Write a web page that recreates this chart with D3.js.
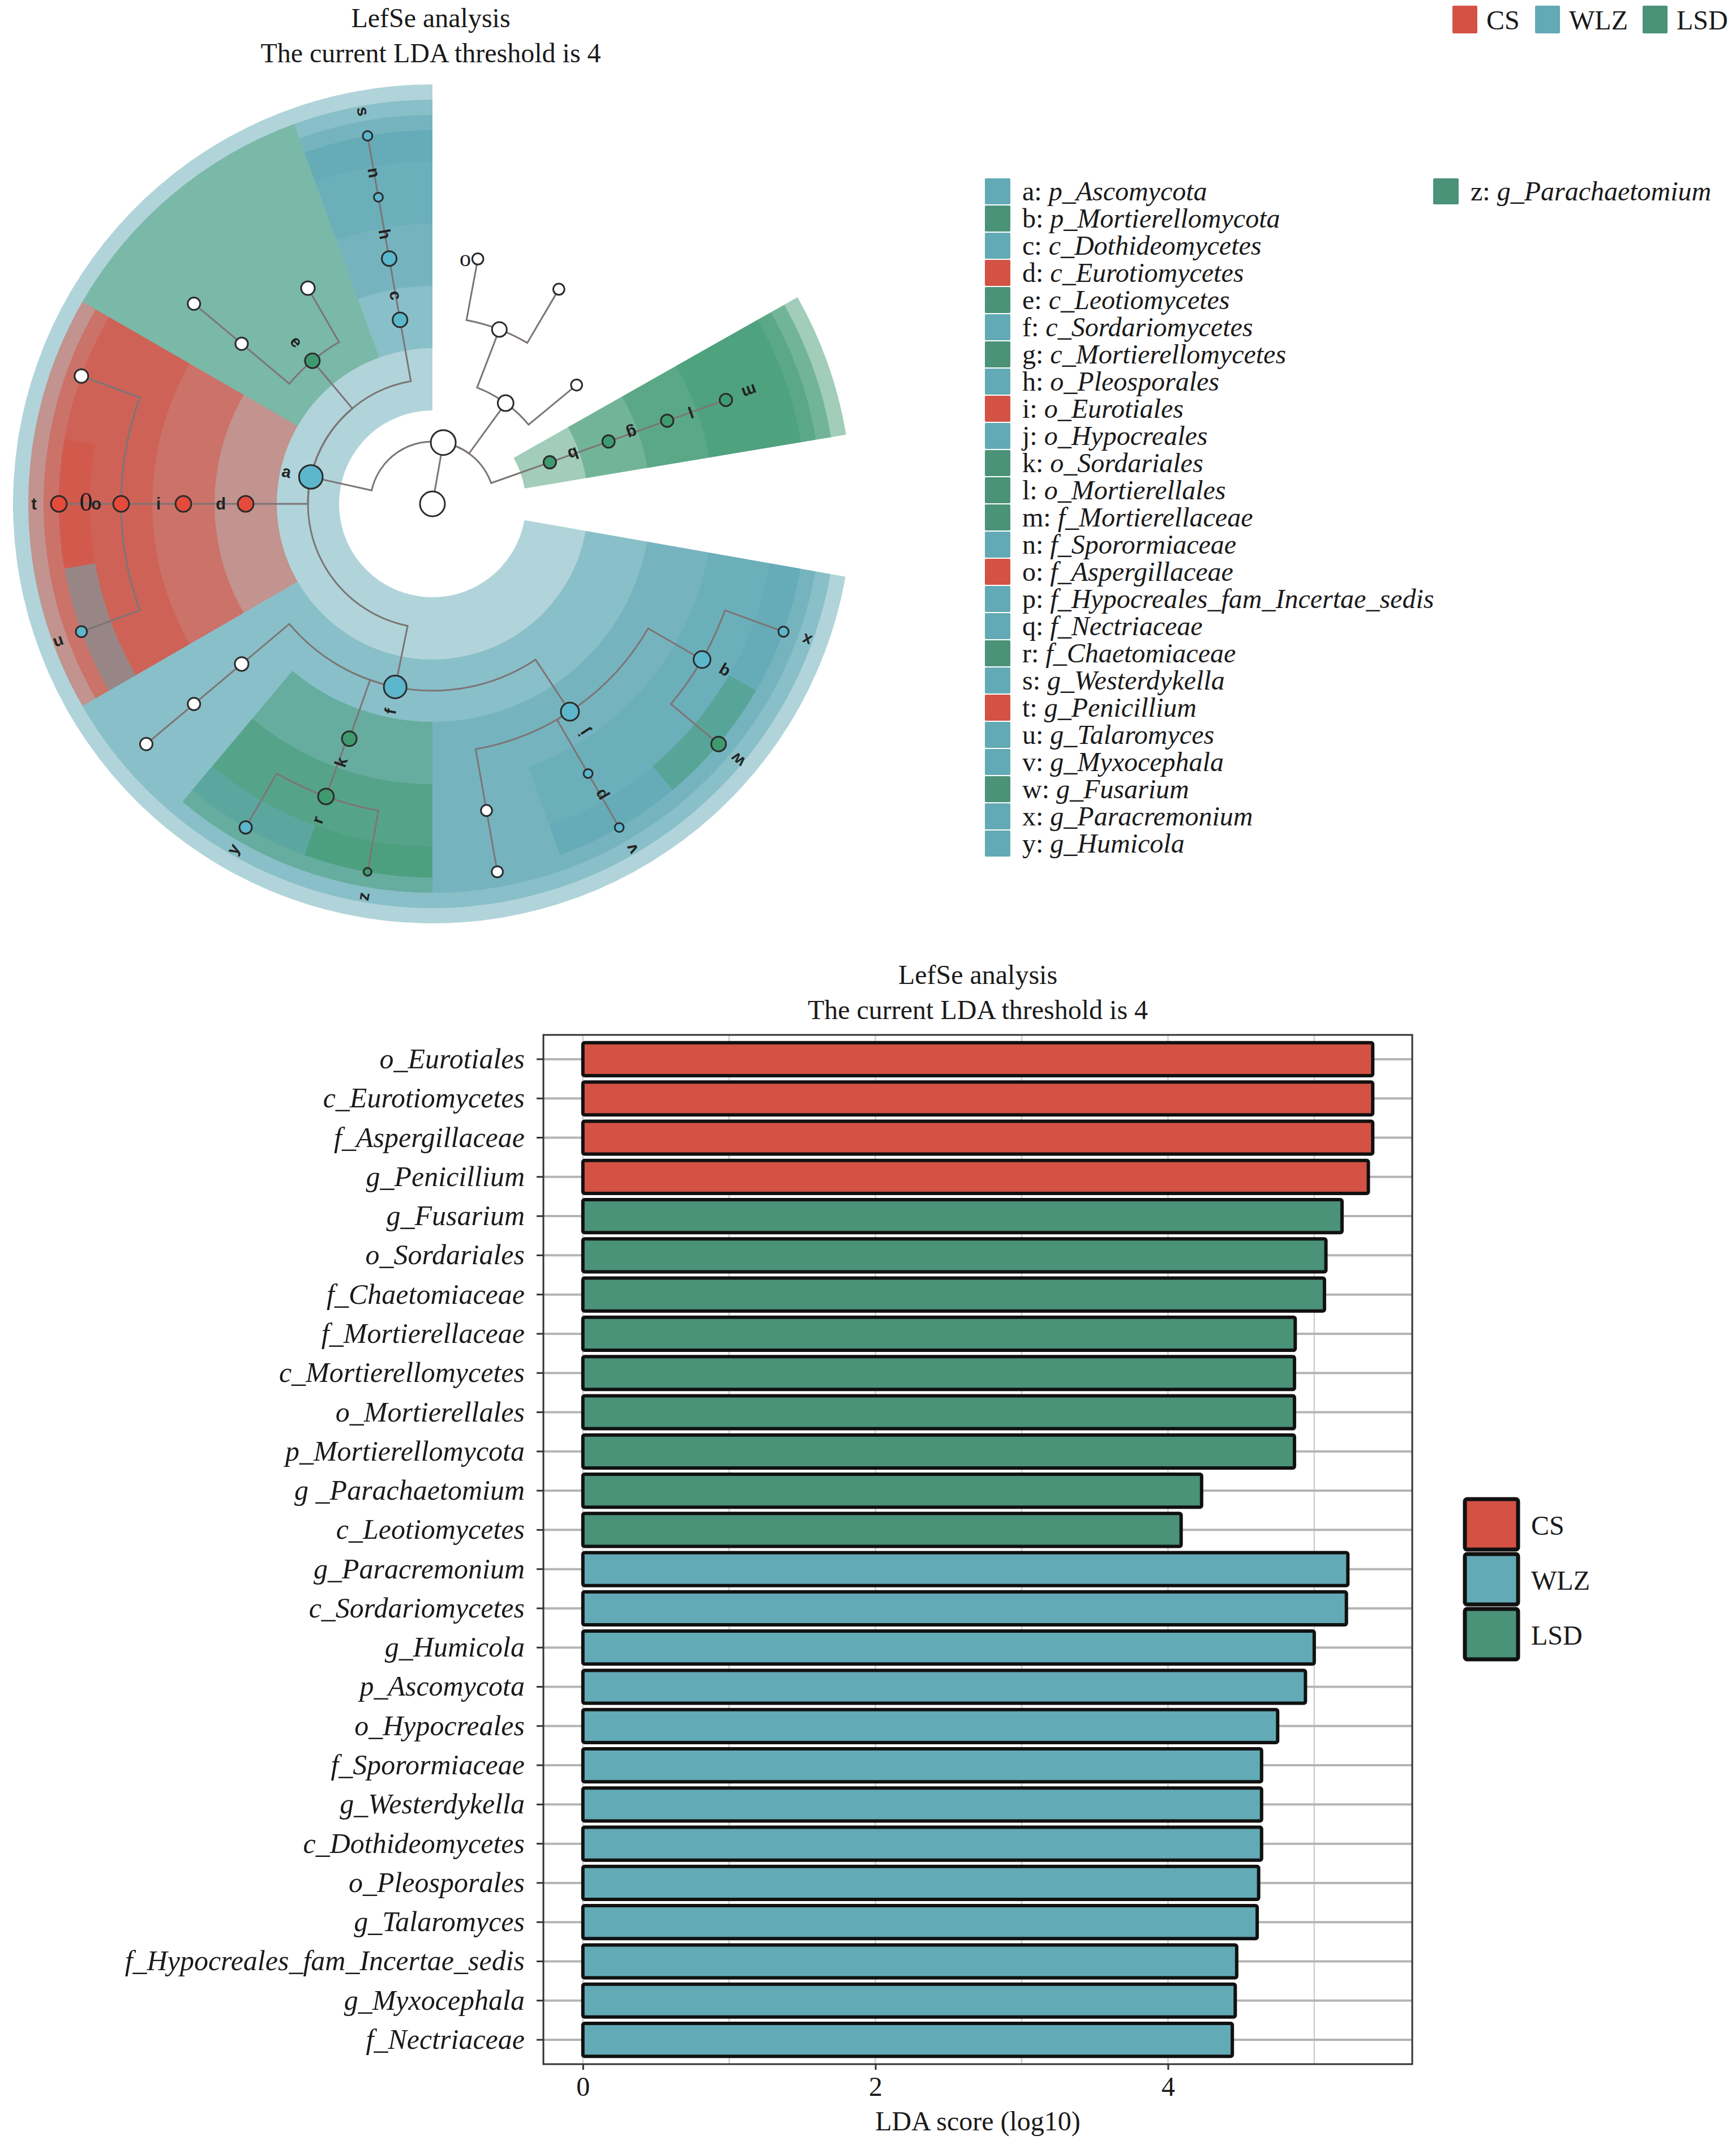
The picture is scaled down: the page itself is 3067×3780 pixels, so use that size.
<!DOCTYPE html>
<html>
<head>
<meta charset="utf-8">
<title>LefSe analysis</title>
<script src="https://cdn.jsdelivr.net/npm/d3@7"></script>
<style>
  body { margin: 0; background: #fff; }
  text { font-family: "Liberation Serif", "Times New Roman", serif; fill: #1a1a1a; }
</style>
</head>
<body>
<script>
// ---------- data ----------
var groups = ["CS", "WLZ", "LSD"];

// LDA bar chart (top to bottom)
var barTaxa = ["o_Eurotiales", "c_Eurotiomycetes", "f_Aspergillaceae", "g_Penicillium",
  "g_Fusarium", "o_Sordariales", "f_Chaetomiaceae", "f_Mortierellaceae", "c_Mortierellomycetes",
  "o_Mortierellales", "p_Mortierellomycota", "g _Parachaetomium", "c_Leotiomycetes",
  "g_Paracremonium", "c_Sordariomycetes", "g_Humicola", "p_Ascomycota", "o_Hypocreales",
  "f_Sporormiaceae", "g_Westerdykella", "c_Dothideomycetes", "o_Pleosporales", "g_Talaromyces",
  "f_Hypocreales_fam_Incertae_sedis", "g_Myxocephala", "f_Nectriaceae"];
var barScores = [5.40, 5.40, 5.40, 5.37, 5.19, 5.08, 5.07, 4.87, 4.865, 4.865, 4.865, 4.23, 4.09,
  5.23, 5.22, 5.00, 4.94, 4.75, 4.64, 4.64, 4.64, 4.62, 4.61, 4.47, 4.46, 4.44];
var barGroups = ["CS", "CS", "CS", "CS", "LSD", "LSD", "LSD", "LSD", "LSD", "LSD", "LSD", "LSD", "LSD",
  "WLZ", "WLZ", "WLZ", "WLZ", "WLZ", "WLZ", "WLZ", "WLZ", "WLZ", "WLZ", "WLZ", "WLZ", "WLZ"];
var ldaTicks = [0, 2, 4];

// cladogram key
var legendKeys = "abcdefghijklmnopqrstuvwxyz".split("");
var legendTaxa = ["p_Ascomycota", "p_Mortierellomycota", "c_Dothideomycetes", "c_Eurotiomycetes",
  "c_Leotiomycetes", "c_Sordariomycetes", "c_Mortierellomycetes", "o_Pleosporales", "o_Eurotiales",
  "o_Hypocreales", "o_Sordariales", "o_Mortierellales", "f_Mortierellaceae", "f_Sporormiaceae",
  "f_Aspergillaceae", "f_Hypocreales_fam_Incertae_sedis", "f_Nectriaceae", "f_Chaetomiaceae",
  "g_Westerdykella", "g_Penicillium", "g_Talaromyces", "g_Myxocephala", "g_Fusarium",
  "g_Paracremonium", "g_Humicola", "g_Parachaetomium"];
var legendGroups = ["WLZ", "LSD", "WLZ", "CS", "LSD", "WLZ", "LSD", "WLZ", "CS", "WLZ", "LSD", "LSD",
  "LSD", "WLZ", "CS", "WLZ", "WLZ", "LSD", "WLZ", "CS", "WLZ", "WLZ", "LSD", "WLZ", "WLZ", "LSD"];

// cladogram nodes: level 0 root .. 6 genus, angle in degrees clockwise from top
var nodeIds     = ["root", "K", "P1", "C2", "O1", "O2", "C1", "b", "g", "l", "m", "a", "c", "h", "n", "s",
  "e", "O3", "O4", "F1", "d", "i", "o", "t", "G1", "u", "f", "k", "r", "y", "z", "O5", "F2", "G2",
  "j", "p", "v", "q", "x", "w", "F3", "G3"];
var nodeParents = [null, "root", "K", "P1", "C2", "C2", "P1", "K", "b", "g", "l", "K", "a", "c", "h", "n",
  "a", "e", "e", "O4", "a", "d", "i", "o", "o", "o", "a", "f", "k", "r", "r", "f", "O5", "F2",
  "f", "j", "p", "j", "q", "q", "j", "F3"];
var nodeLevels  = [0, 1, 2, 3, 4, 4, 3, 2, 3, 4, 5, 2, 3, 4, 5, 6,
  3, 4, 4, 5, 3, 4, 5, 6, 6, 6, 3, 4, 5, 6, 6, 4, 5, 6,
  4, 5, 6, 5, 6, 6, 5, 6];
var nodeAngles  = [0, 10, 36, 21, 10.5, 30.5, 50.5, 70.5, 70.5, 70.5, 70.5, 282.5, 350, 350, 350, 350,
  320, 330, 310, 310, 270, 270, 270, 270, 290, 250, 191.5, 199.5, 200, 210, 190, 230, 230, 230,
  146.5, 150, 150, 120, 110, 130, 170, 170];
var nodeGroups  = [null, null, null, null, null, null, null, "LSD", "LSD", "LSD", "LSD", "WLZ", "WLZ", "WLZ", "WLZ", "WLZ",
  "LSD", null, null, null, "CS", "CS", "CS", "CS", null, "WLZ", "WLZ", "LSD", "LSD", "WLZ", "LSD", null, null, null,
  "WLZ", "WLZ", "WLZ", "WLZ", "WLZ", "LSD", null, null];
var nodeAbund   = [1, 1, 0.4, 0.35, 0.2, 0.2, 0.2, 0.25, 0.25, 0.25, 0.25, 0.9, 0.35, 0.35, 0.13, 0.15,
  0.35, 0.3, 0.25, 0.25, 0.4, 0.4, 0.4, 0.4, 0.3, 0.2, 0.83, 0.35, 0.4, 0.25, 0.1, 0.3, 0.25, 0.25,
  0.53, 0.13, 0.13, 0.46, 0.17, 0.35, 0.2, 0.2];

// ---------- setup ----------
var W = 3067, H = 3780;
var svg = d3.select("body").append("svg").attr("width", W).attr("height", H);
svg.append("rect").attr("width", W).attr("height", H).attr("fill", "#fff");

var fillColor = d3.scaleOrdinal().domain(groups).range(["#d35244", "#62aab5", "#4a9278"]);
var sectorColor = d3.scaleOrdinal().domain(groups).range(["#d35244", "#62aab5", "#439c76"]);
var nodeColor = d3.scaleOrdinal().domain(groups).range(["#e64a3b", "#5cb6cc", "#3f9a6f"]);

// ---------- top title + legend ----------
svg.append("text").attr("x", 761).attr("y", 48).attr("text-anchor", "middle")
  .attr("font-size", 48).text("LefSe analysis");
svg.append("text").attr("x", 761).attr("y", 110).attr("text-anchor", "middle")
  .attr("font-size", 48).text("The current LDA threshold is 4");

var topLeg = svg.append("g").selectAll("g").data(groups).enter().append("g")
  .attr("transform", function (d, i) { return "translate(" + [2566, 2712, 2902][i] + ",10)"; });
topLeg.append("rect").attr("width", 44).attr("height", 49).attr("rx", 2)
  .attr("fill", function (d) { return fillColor(d); });
topLeg.append("text").attr("x", 60).attr("y", 42).attr("font-size", 48).text(function (d) { return d; });

// ---------- cladogram ----------
var cx = 764, cy = 890;
var rLevel = d3.scaleLinear().domain([0, 6]).range([0, 660]);
var rOuter = d3.scaleLinear().domain([2, 5]).range([741, 660]).clamp(true);
var rNode = d3.scaleSqrt().domain([0, 1]).range([0, 22]);
var leafHalf = 10;

var rows = nodeIds.map(function (id, i) {
  return { id: id, parent: nodeParents[i], level: nodeLevels[i], angle: nodeAngles[i],
           group: nodeGroups[i], abund: nodeAbund[i] };
});
var tree = d3.stratify().id(function (d) { return d.id; }).parentId(function (d) { return d.parent; })(rows);
var all = tree.descendants();

function pt(level, deg) {
  var r = rLevel(level), a = deg * Math.PI / 180;
  return [cx + r * Math.sin(a), cy - r * Math.cos(a)];
}

var clado = svg.append("g");

// shaded clades
var shaded = all.filter(function (n) { return n.data.group && n.depth > 0; })
  .sort(function (a, b) { return a.data.level - b.data.level; });
var arcGen = d3.arc();
clado.append("g").selectAll("path").data(shaded).enter().append("path")
  .attr("transform", "translate(" + cx + "," + cy + ")")
  .attr("d", function (n) {
    var ang = n.leaves().map(function (l) { return l.data.angle; });
    return arcGen({
      innerRadius: rLevel(n.data.level - 0.5),
      outerRadius: rOuter(n.data.level),
      startAngle: (d3.min(ang) - leafHalf) * Math.PI / 180,
      endAngle: (d3.max(ang) + leafHalf) * Math.PI / 180
    });
  })
  .attr("fill", function (n) { return sectorColor(n.data.group); })
  .attr("fill-opacity", 0.5);

// branches
function edgePath(n) {
  var p = n.parent, path = d3.path();
  var s = pt(p.data.level, p.data.angle), e = pt(n.data.level, n.data.angle);
  path.moveTo(s[0], s[1]);
  if (p.data.level > 0) {
    var delta = ((n.data.angle - p.data.angle + 540) % 360) - 180;
    var a0 = (p.data.angle - 90) * Math.PI / 180;
    path.arc(cx, cy, rLevel(p.data.level), a0, a0 + delta * Math.PI / 180, delta < 0);
  }
  path.lineTo(e[0], e[1]);
  return path.toString();
}
clado.append("g").selectAll("path").data(all.filter(function (n) { return n.parent; }))
  .enter().append("path")
  .attr("d", edgePath)
  .attr("fill", "none").attr("stroke", "#7d7575").attr("stroke-width", 3);

// letters
clado.append("g").selectAll("text").data(shaded).enter().append("text")
  .attr("transform", function (n) {
    var r = rLevel(n.data.level) + 44, a = n.data.angle * Math.PI / 180;
    return "translate(" + (cx + r * Math.sin(a)) + "," + (cy - r * Math.cos(a)) + ") rotate(" + (n.data.angle - 270) + ")";
  })
  .attr("text-anchor", "middle").attr("dy", "0.35em")
  .style("font-family", "'Liberation Sans', Arial, sans-serif").style("font-weight", "bold")
  .attr("font-size", 29).style("fill", "#222")
  .text(function (n) { return n.data.id; });

// nodes
clado.append("g").selectAll("circle").data(all).enter().append("circle")
  .attr("cx", function (n) { return pt(n.data.level, n.data.angle)[0]; })
  .attr("cy", function (n) { return pt(n.data.level, n.data.angle)[1]; })
  .attr("r", function (n) { return rNode(n.data.abund); })
  .attr("fill", function (n) { return n.data.group ? nodeColor(n.data.group) : "#fff"; })
  .attr("stroke", "#2b2b2b").attr("stroke-width", 3);

// stray serif glyphs printed over the cladogram in the source figure
clado.append("text").attr("x", cx - 612).attr("y", cy + 12).attr("text-anchor", "middle")
  .attr("font-size", 46).text("0");
clado.append("text").attr("x", cx + 58).attr("y", cy - 420).attr("text-anchor", "middle")
  .attr("font-size", 40).text("o");

// ---------- cladogram key ----------
var key = svg.append("g").selectAll("g").data(legendKeys).enter().append("g")
  .attr("transform", function (d, i) {
    var col = i < 25 ? 0 : 1, row = i % 25;
    return "translate(" + (col ? 2532 : 1740) + "," + (338 + row * 48) + ")";
  });
key.append("rect").attr("x", 0).attr("y", -23).attr("width", 45).attr("height", 46).attr("rx", 2)
  .attr("fill", function (d, i) { return fillColor(legendGroups[i]); });
var keyText = key.append("text").attr("x", 66).attr("y", 16).attr("font-size", 48);
keyText.append("tspan").text(function (d) { return d + ": "; });
keyText.append("tspan").style("font-style", "italic").text(function (d, i) { return legendTaxa[i]; });

// ---------- LDA bar chart ----------
var pLeft = 960, pRight = 2495, pTop = 1828, pBottom = 3646;
var x = d3.scaleLinear().domain([-0.27, 5.67]).range([pLeft, pRight]);
var y = d3.scaleBand().domain(barTaxa).range([pTop, pBottom]).paddingInner(0.16).paddingOuter(0.2);

svg.append("text").attr("x", (pLeft + pRight) / 2).attr("y", 1738).attr("text-anchor", "middle")
  .attr("font-size", 48).text("LefSe analysis");
svg.append("text").attr("x", (pLeft + pRight) / 2).attr("y", 1800).attr("text-anchor", "middle")
  .attr("font-size", 48).text("The current LDA threshold is 4");

var plot = svg.append("g");
plot.append("g").selectAll("line").data(x.ticks(6)).enter().append("line")
  .attr("x1", function (d) { return x(d); }).attr("x2", function (d) { return x(d); })
  .attr("y1", pTop).attr("y2", pBottom)
  .attr("stroke", "#d0d0d0").attr("stroke-width", 2.5);
plot.append("g").selectAll("line").data(barTaxa).enter().append("line")
  .attr("x1", pLeft).attr("x2", pRight)
  .attr("y1", function (d) { return y(d) + y.bandwidth() / 2; })
  .attr("y2", function (d) { return y(d) + y.bandwidth() / 2; })
  .attr("stroke", "#b4b4b4").attr("stroke-width", 4);

plot.append("g").selectAll("rect").data(barTaxa).enter().append("rect")
  .attr("x", x(0))
  .attr("y", function (d) { return y(d); })
  .attr("width", function (d, i) { return x(barScores[i]) - x(0); })
  .attr("height", y.bandwidth())
  .attr("rx", 3)
  .attr("fill", function (d, i) { return fillColor(barGroups[i]); })
  .attr("stroke", "#111").attr("stroke-width", 6);

plot.append("rect").attr("x", pLeft).attr("y", pTop).attr("width", pRight - pLeft).attr("height", pBottom - pTop)
  .attr("fill", "none").attr("stroke", "#333").attr("stroke-width", 3);

var yAxis = plot.append("g").attr("transform", "translate(" + pLeft + ",0)")
  .call(d3.axisLeft(y).tickSize(12).tickPadding(21));
yAxis.select(".domain").remove();
yAxis.selectAll("line").attr("stroke", "#333").attr("stroke-width", 3);
yAxis.selectAll("text").attr("font-size", 50).style("font-style", "italic")
  .style("font-family", "'Liberation Serif', serif").style("fill", "#1a1a1a");

var xAxis = plot.append("g").attr("transform", "translate(0," + pBottom + ")")
  .call(d3.axisBottom(x).tickValues(ldaTicks).tickFormat(d3.format("d")).tickSize(10).tickPadding(12));
xAxis.select(".domain").remove();
xAxis.selectAll("line").attr("stroke", "#333").attr("stroke-width", 3);
xAxis.selectAll("text").attr("font-size", 48)
  .style("font-family", "'Liberation Serif', serif").style("fill", "#1a1a1a");

svg.append("text").attr("x", (pLeft + pRight) / 2).attr("y", 3763).attr("text-anchor", "middle")
  .attr("font-size", 48).text("LDA score (log10)");

// bar chart legend
var barLeg = svg.append("g").selectAll("g").data(groups).enter().append("g")
  .attr("transform", function (d, i) { return "translate(2588," + (2648 + i * 97) + ")"; });
barLeg.append("rect").attr("width", 94).attr("height", 89).attr("rx", 4)
  .attr("fill", function (d) { return fillColor(d); })
  .attr("stroke", "#111").attr("stroke-width", 7);
barLeg.append("text").attr("x", 117).attr("y", 63).attr("font-size", 48)
  .text(function (d) { return d; });
</script>
</body>
</html>
